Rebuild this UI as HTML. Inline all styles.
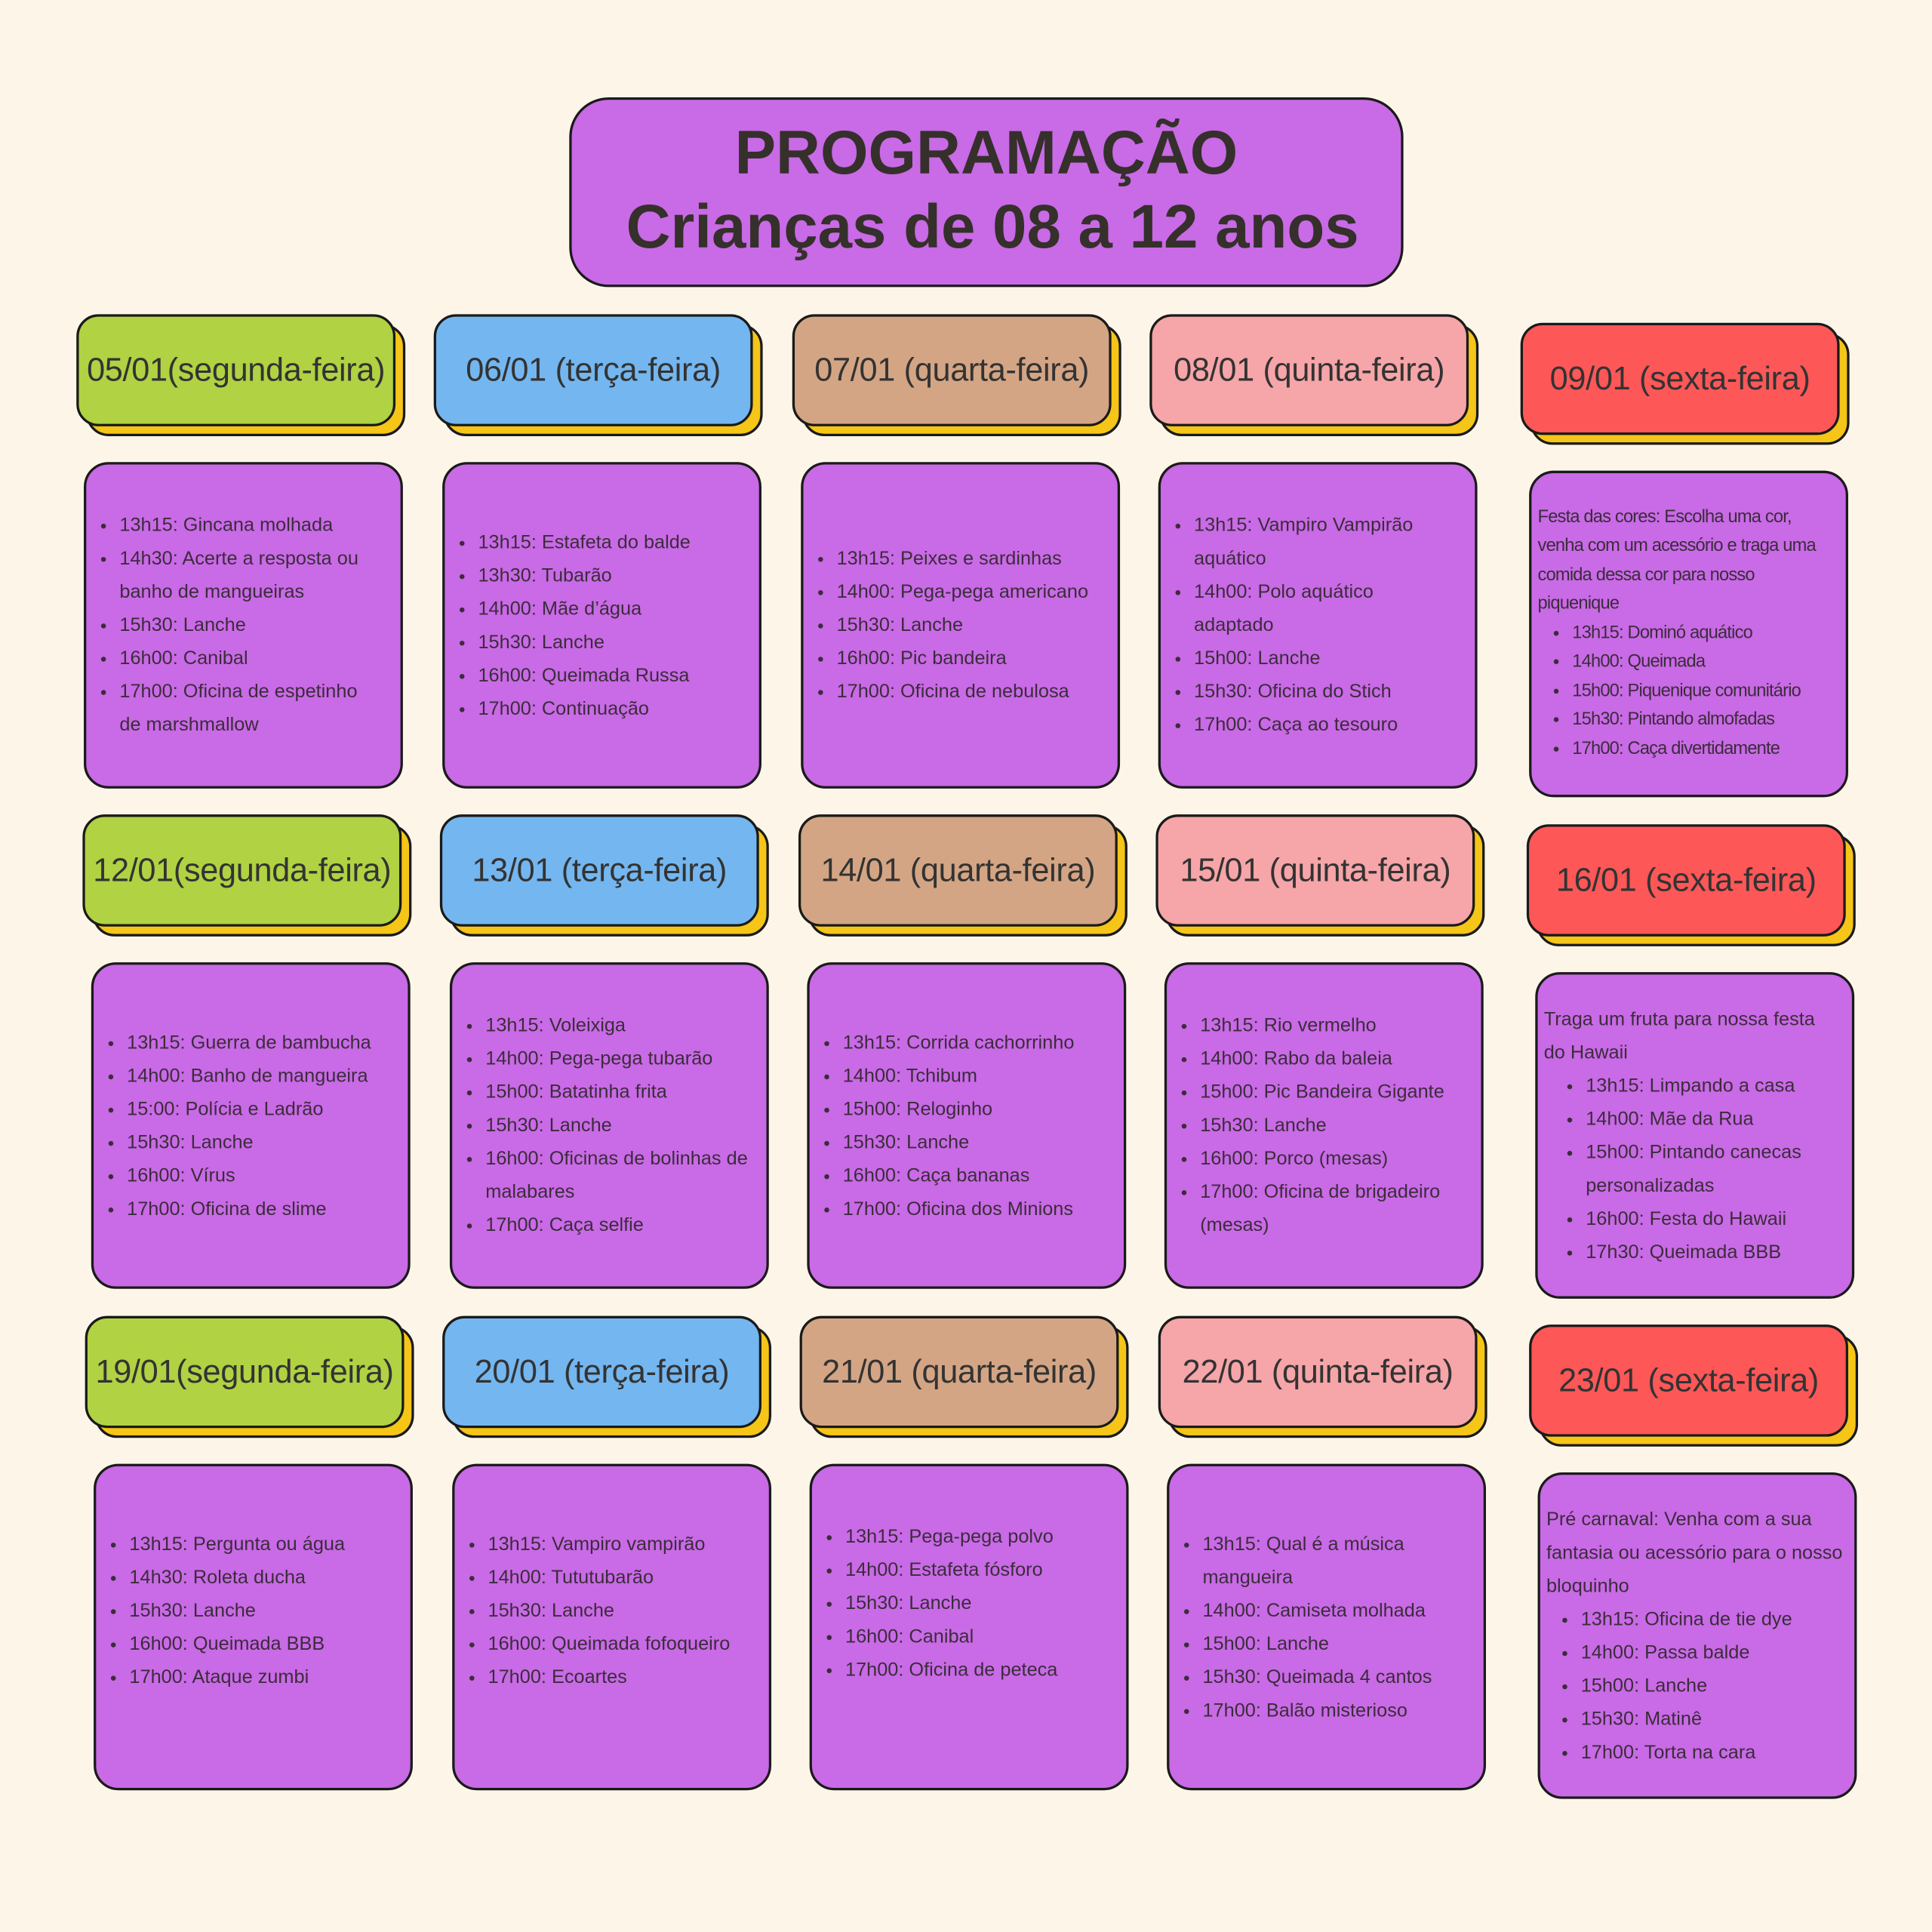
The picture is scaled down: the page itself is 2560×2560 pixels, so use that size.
<!DOCTYPE html>
<html><head><meta charset="utf-8"><style>
html,body{margin:0;padding:0;background:#fdf6e8;}
body{width:2560px;height:2560px;overflow:hidden;}
#s{position:absolute;left:0;top:0;width:1568px;height:1568px;transform:scale(1.632653);transform-origin:0 0;font-family:"Liberation Sans",sans-serif;color:#3b2c3b;}
.t{position:absolute;left:462px;top:79px;width:673px;height:150px;background:#c96ae6;border:2.5px solid #1a1a1a;border-radius:32px;text-align:center;color:#35302b;font-weight:bold;}
.t .a{position:absolute;left:0;right:0;top:18px;font-size:50px;line-height:1;}
.t .b{position:absolute;left:10px;right:0;top:78px;font-size:50px;line-height:1;}
.h{position:absolute;border:2.5px solid #1a1a1a;border-radius:18px;box-sizing:border-box;width:259px;height:91px;display:flex;align-items:center;justify-content:center;font-size:26.5px;color:#333;white-space:nowrap;letter-spacing:-0.2px;}
.h.sh{background:#f5c518;}
.g{background:#b0d243}.bl{background:#74b6ef}.tn{background:#d4a584}.pk{background:#f6a5a8}.rd{background:#fe5757}
.c{position:absolute;width:259px;height:265px;box-sizing:border-box;background:#c96ae6;border:2.5px solid #1a1a1a;border-radius:20px;display:flex;flex-direction:column;justify-content:center;font-size:15.5px;line-height:27px;padding:0 20px 0 8px;}
.c ul{margin:0;padding:0 0 0 19px;}
.c p{margin:0;}
.sm{font-size:14.5px;line-height:23.5px;letter-spacing:-0.5px;}
</style></head><body><div id="s">
<div class="t"><div class="a">PROGRAMAÇÃO</div><div class="b">Crianças de 08 a 12 anos</div></div>

<div class="h sh" style="left:70px;top:263px"></div><div class="h g" style="left:62px;top:255px">05/01(segunda-feira)</div>
<div class="h sh" style="left:360px;top:263px"></div><div class="h bl" style="left:352px;top:255px">06/01 (terça-feira)</div>
<div class="h sh" style="left:651px;top:263px"></div><div class="h tn" style="left:643px;top:255px">07/01 (quarta-feira)</div>
<div class="h sh" style="left:941px;top:263px"></div><div class="h pk" style="left:933px;top:255px">08/01 (quinta-feira)</div>
<div class="h sh" style="left:1242px;top:270px"></div><div class="h rd" style="left:1234px;top:262px">09/01 (sexta-feira)</div>

<div class="c" style="left:68px;top:375px"><ul><li>13h15: Gincana molhada</li><li>14h30: Acerte a resposta ou banho de mangueiras</li><li>15h30: Lanche</li><li>16h00: Canibal</li><li>17h00: Oficina de espetinho de marshmallow</li></ul></div>
<div class="c" style="left:359px;top:375px"><ul><li>13h15: Estafeta do balde</li><li>13h30: Tubarão</li><li>14h00: Mãe d’água</li><li>15h30: Lanche</li><li>16h00: Queimada Russa</li><li>17h00: Continuação</li></ul></div>
<div class="c" style="left:650px;top:375px;padding-right:6px"><ul><li>13h15: Peixes e sardinhas</li><li>14h00: Pega-pega americano</li><li>15h30: Lanche</li><li>16h00: Pic bandeira</li><li>17h00: Oficina de nebulosa</li></ul></div>
<div class="c" style="left:940px;top:375px;padding-right:30px"><ul><li>13h15: Vampiro Vampirão aquático</li><li>14h00: Polo aquático adaptado</li><li>15h00: Lanche</li><li>15h30: Oficina do Stich</li><li>17h00: Caça ao tesouro</li></ul></div>
<div class="c sm" style="left:1241px;top:382px;padding-left:5px;padding-right:14px"><p>Festa das cores: Escolha uma cor, venha com um acessório e traga uma comida dessa cor para nosso piquenique</p><ul style="padding-left:28px"><li>13h15: Dominó aquático</li><li>14h00: Queimada</li><li>15h00: Piquenique comunitário</li><li>15h30: Pintando almofadas</li><li>17h00: Caça divertidamente</li></ul></div>

<div class="h sh" style="left:75px;top:669px"></div><div class="h g" style="left:67px;top:661px">12/01(segunda-feira)</div>
<div class="h sh" style="left:365px;top:669px"></div><div class="h bl" style="left:357px;top:661px">13/01 (terça-feira)</div>
<div class="h sh" style="left:656px;top:669px"></div><div class="h tn" style="left:648px;top:661px">14/01 (quarta-feira)</div>
<div class="h sh" style="left:946px;top:669px"></div><div class="h pk" style="left:938px;top:661px">15/01 (quinta-feira)</div>
<div class="h sh" style="left:1247px;top:677px"></div><div class="h rd" style="left:1239px;top:669px">16/01 (sexta-feira)</div>

<div class="c" style="left:74px;top:781px"><ul><li>13h15: Guerra de bambucha</li><li>14h00: Banho de mangueira</li><li>15:00: Polícia e Ladrão</li><li>15h30: Lanche</li><li>16h00: Vírus</li><li>17h00: Oficina de slime</li></ul></div>
<div class="c" style="left:365px;top:781px;padding-right:4px"><ul><li>13h15: Voleixiga</li><li>14h00: Pega-pega tubarão</li><li>15h00: Batatinha frita</li><li>15h30: Lanche</li><li>16h00: Oficinas de bolinhas de malabares</li><li>17h00: Caça selfie</li></ul></div>
<div class="c" style="left:655px;top:781px"><ul><li>13h15: Corrida cachorrinho</li><li>14h00: Tchibum</li><li>15h00: Reloginho</li><li>15h30: Lanche</li><li>16h00: Caça bananas</li><li>17h00: Oficina dos Minions</li></ul></div>
<div class="c" style="left:945px;top:781px"><ul><li>13h15: Rio vermelho</li><li>14h00: Rabo da baleia</li><li>15h00: Pic Bandeira Gigante</li><li>15h30: Lanche</li><li>16h00: Porco (mesas)</li><li>17h00: Oficina de brigadeiro (mesas)</li></ul></div>
<div class="c" style="left:1246px;top:789px;padding-left:5px;padding-right:14px"><p>Traga um fruta para nossa festa do Hawaii</p><ul style="padding-left:34px"><li>13h15: Limpando a casa</li><li>14h00: Mãe da Rua</li><li>15h00: Pintando canecas personalizadas</li><li>16h00: Festa do Hawaii</li><li>17h30: Queimada BBB</li></ul></div>

<div class="h sh" style="left:77px;top:1076px"></div><div class="h g" style="left:69px;top:1068px">19/01(segunda-feira)</div>
<div class="h sh" style="left:367px;top:1076px"></div><div class="h bl" style="left:359px;top:1068px">20/01 (terça-feira)</div>
<div class="h sh" style="left:657px;top:1076px"></div><div class="h tn" style="left:649px;top:1068px">21/01 (quarta-feira)</div>
<div class="h sh" style="left:948px;top:1076px"></div><div class="h pk" style="left:940px;top:1068px">22/01 (quinta-feira)</div>
<div class="h sh" style="left:1249px;top:1083px"></div><div class="h rd" style="left:1241px;top:1075px">23/01 (sexta-feira)</div>

<div class="c" style="left:76px;top:1188px;padding-bottom:26px"><ul><li>13h15: Pergunta ou água</li><li>14h30: Roleta ducha</li><li>15h30: Lanche</li><li>16h00: Queimada BBB</li><li>17h00: Ataque zumbi</li></ul></div>
<div class="c" style="left:367px;top:1188px;padding-bottom:26px;padding-right:6px"><ul><li>13h15: Vampiro vampirão</li><li>14h00: Tututubarão</li><li>15h30: Lanche</li><li>16h00: Queimada fofoqueiro</li><li>17h00: Ecoartes</li></ul></div>
<div class="c" style="left:657px;top:1188px;justify-content:flex-start;padding-top:44px"><ul><li>13h15: Pega-pega polvo</li><li>14h00: Estafeta fósforo</li><li>15h30: Lanche</li><li>16h00: Canibal</li><li>17h00: Oficina de peteca</li></ul></div>
<div class="c" style="left:947px;top:1188px"><ul><li>13h15: Qual é a música mangueira</li><li>14h00: Camiseta molhada</li><li>15h00: Lanche</li><li>15h30: Queimada 4 cantos</li><li>17h00: Balão misterioso</li></ul></div>
<div class="c" style="left:1248px;top:1195px;padding-left:5px;padding-right:6px"><p>Pré carnaval: Venha com a sua fantasia ou acessório para o nosso bloquinho</p><ul style="padding-left:28px"><li>13h15: Oficina de tie dye</li><li>14h00: Passa balde</li><li>15h00: Lanche</li><li>15h30: Matinê</li><li>17h00: Torta na cara</li></ul></div>
</div></body></html>
